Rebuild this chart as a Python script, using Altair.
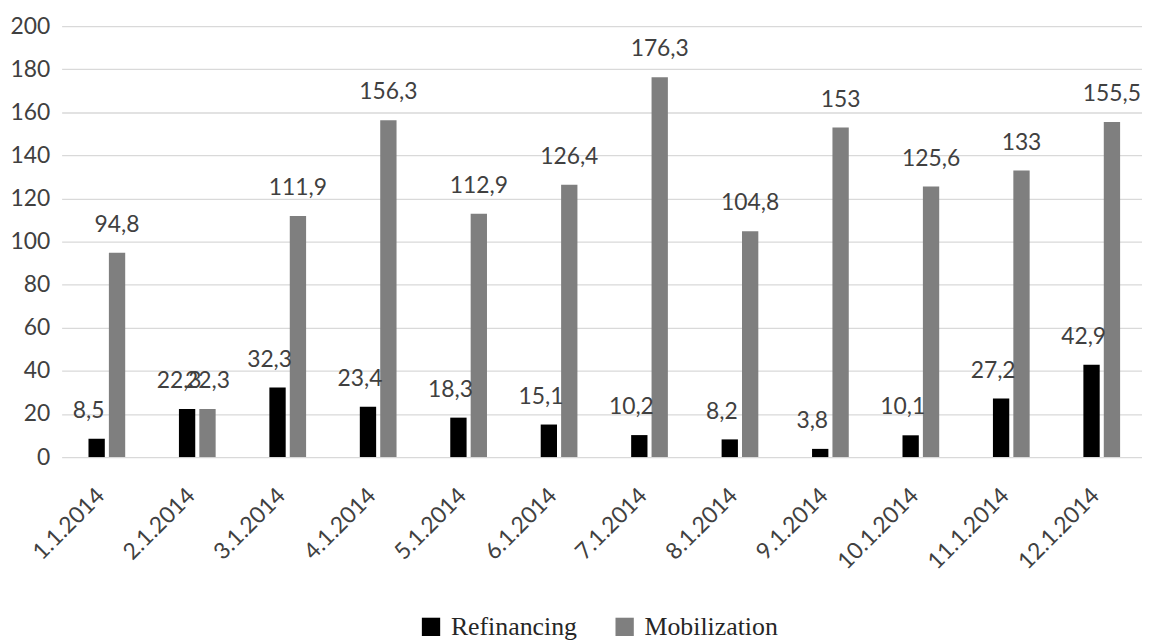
import altair as alt
import pandas as pd

months = ["1.1.2014", "2.1.2014", "3.1.2014", "4.1.2014", "5.1.2014", "6.1.2014",
          "7.1.2014", "8.1.2014", "9.1.2014", "10.1.2014", "11.1.2014", "12.1.2014"]
refinancing = [8.5, 22.3, 32.3, 23.4, 18.3, 15.1, 10.2, 8.2, 3.8, 10.1, 27.2, 42.9]
mobilization = [94.8, 22.3, 111.9, 156.3, 112.9, 126.4, 176.3, 104.8, 153, 125.6, 133, 155.5]
series = ["Refinancing", "Mobilization"]
colors = ["#000000", "#7f7f7f"]

rows = []
for m, r, mo in zip(months, refinancing, mobilization):
    rows.append({"month": m, "series": series[0], "value": r})
    rows.append({"month": m, "series": series[1], "value": mo})
df = pd.DataFrame(rows)
df["label"] = df["value"].map(lambda v: f"{v:g}".replace(".", ","))

FONT = "Lato"
TXT = "#404040"

x = alt.X("month:N", sort=months, title=None,
          scale=alt.Scale(range=[-10, 1083], paddingInner=0.594, paddingOuter=0.297),
          axis=alt.Axis(labelAngle=-45, labelAlign="right", labelBaseline="middle",
                        labelFont=FONT, labelFontSize=23, labelColor=TXT,
                        labelPadding=35, labelOffset=-6, ticks=False, domain=False))
xo = alt.XOffset("series:N", sort=series,
                 scale=alt.Scale(paddingInner=0.2, paddingOuter=0))
y = alt.Y("value:Q", title=None,
          scale=alt.Scale(domain=[0, 200]),
          axis=alt.Axis(values=list(range(0, 201, 20)), labelFont=FONT, labelFontSize=23,
                        labelColor=TXT, labelPadding=22, ticks=False, tickSize=0,
                        domain=False, gridColor="#d9d9d9", gridWidth=1.3))

base = alt.Chart(df).encode(x=x, xOffset=xo, y=y)

bars = base.mark_bar().encode(
    color=alt.Color("series:N", sort=series,
                    scale=alt.Scale(domain=series, range=colors),
                    legend=alt.Legend(title=None, orient="none", direction="horizontal",
                                      legendX=349, legendY=592,
                                      symbolType="square", symbolSize=340,
                                      symbolStrokeWidth=0,
                                      labelFont="Liberation Serif", labelFontSize=26,
                                      labelColor="#262626", labelOffset=7,
                                      columnPadding=34, padding=0))
)

lab_ref = base.mark_text(font=FONT, fontSize=23, color=TXT, baseline="alphabetic",
                         dy=-21, dx=-8).encode(text="label:N").transform_filter(
    alt.datum.series == series[0])
lab_mob = base.mark_text(font=FONT, fontSize=23, color=TXT, baseline="alphabetic",
                         dy=-21).encode(text="label:N").transform_filter(
    alt.datum.series == series[1])

chart = alt.layer(bars, lab_ref, lab_mob).properties(
    width=1078, height=434,
    autosize=alt.AutoSizeParams(type="none"),
    padding={"left": 64, "top": 16, "right": 0, "bottom": 184},
    background="white",
).configure_view(stroke=None)

chart.save("out.html", embed_options={"renderer": "svg", "actions": False})
